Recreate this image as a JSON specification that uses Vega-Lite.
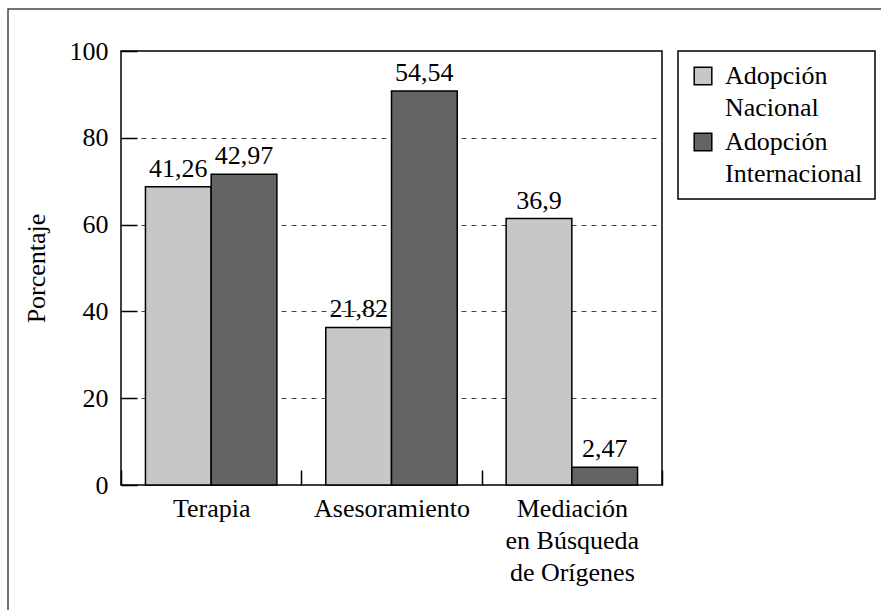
{
  "$schema": "https://vega.github.io/schema/vega-lite/v6.json",
  "width": 541,
  "height": 434,
  "autosize": {"type": "none"},
  "padding": {"left": 121, "top": 51, "right": 219, "bottom": 125},
  "background": "white",
  "config": {
    "font": "Liberation Serif",
    "view": {"stroke": "black", "strokeWidth": 1.5, "fill": "white"},
    "axis": {
      "labelFont": "Liberation Serif",
      "labelFontSize": 26,
      "labelColor": "black",
      "titleFont": "Liberation Serif",
      "titleFontSize": 26,
      "titleFontWeight": "normal",
      "titleColor": "black",
      "tickColor": "black",
      "tickWidth": 1.5,
      "domain": false
    },
    "legend": {
      "labelFont": "Liberation Serif",
      "labelFontSize": 26,
      "labelColor": "black"
    }
  },
  "data": {
    "values": [
      {"categoria": "Terapia", "grupo": "Adopción Nacional", "porcentaje": 68.7, "etiqueta": "41,26"},
      {"categoria": "Terapia", "grupo": "Adopción Internacional", "porcentaje": 71.6, "etiqueta": "42,97"},
      {"categoria": "Asesoramiento", "grupo": "Adopción Nacional", "porcentaje": 36.3, "etiqueta": "21,82"},
      {"categoria": "Asesoramiento", "grupo": "Adopción Internacional", "porcentaje": 90.8, "etiqueta": "54,54"},
      {"categoria": "Mediación en Búsqueda de Orígenes", "grupo": "Adopción Nacional", "porcentaje": 61.4, "etiqueta": "36,9"},
      {"categoria": "Mediación en Búsqueda de Orígenes", "grupo": "Adopción Internacional", "porcentaje": 4.1, "etiqueta": "2,47"}
    ]
  },
  "layer": [
    {
      "data": {"values": [{}]},
      "mark": {
        "type": "rect",
        "x": -113,
        "y": -42,
        "x2": {"expr": "width + 400"},
        "y2": {"expr": "height + 400"},
        "fill": null,
        "stroke": "#444444",
        "strokeWidth": 1.5
      },
      "encoding": {}
    },
    {
      "mark": {"type": "bar", "stroke": "black", "strokeWidth": 1.5},
      "encoding": {
        "x": {
          "field": "categoria",
          "type": "nominal",
          "sort": null,
          "scale": {"paddingInner": 0, "paddingOuter": 0},
          "axis": {
            "title": null,
            "labelAngle": 0,
            "tickBand": "extent",
            "tickSize": -15,
            "labelPadding": 25,
            "labelLineHeight": 32,
            "labelLimit": 300,
            "labelExpr": "datum.label == 'Mediación en Búsqueda de Orígenes' ? ['Mediación', 'en Búsqueda', 'de Orígenes'] : datum.label"
          }
        },
        "xOffset": {
          "field": "grupo",
          "type": "nominal",
          "sort": null,
          "scale": {"paddingInner": 0, "paddingOuter": 0.372}
        },
        "y": {
          "field": "porcentaje",
          "type": "quantitative",
          "scale": {"domain": [0, 100], "nice": false},
          "axis": {
            "title": "Porcentaje",
            "values": [0, 20, 40, 60, 80, 100],
            "grid": true,
            "gridColor": "#444444",
            "gridDash": [5, 5],
            "gridWidth": 1,
            "gridOpacity": {"condition": {"test": "datum.value == 0 || datum.value == 100", "value": 0}, "value": 1},
            "tickSize": -16,
            "labelPadding": 29,
            "titlePadding": 20
          }
        },
        "color": {
          "field": "grupo",
          "type": "nominal",
          "scale": {"domain": ["Adopción Nacional", "Adopción Internacional"], "range": ["#c6c7c9", "#646466"]},
          "legend": {
            "title": null,
            "orient": "none",
            "legendX": 557,
            "legendY": 0,
            "direction": "vertical",
            "strokeColor": "black",
            "fillColor": "white",
            "padding": 12,
            "symbolType": "square",
            "symbolSize": 310,
            "symbolStrokeColor": "black",
            "symbolStrokeWidth": 1.5,
            "symbolOpacity": 1,
            "labelOffset": 9,
            "labelLimit": 300,
            "rowPadding": 8,
            "labelExpr": "split(datum.label, ' ')",
            "encode": {
              "labels": {"update": {"lineHeight": {"value": 32}}},
              "legend": {"update": {"strokeWidth": {"value": 1.5}}}
            }
          }
        }
      }
    },
    {
      "mark": {"type": "text", "baseline": "alphabetic", "dy": -10, "fontSize": 26, "font": "Liberation Serif", "color": "black"},
      "encoding": {
        "x": {"field": "categoria", "type": "nominal", "sort": null},
        "xOffset": {"field": "grupo", "type": "nominal", "sort": null},
        "y": {"field": "porcentaje", "type": "quantitative"},
        "text": {"field": "etiqueta"}
      }
    }
  ]
}
